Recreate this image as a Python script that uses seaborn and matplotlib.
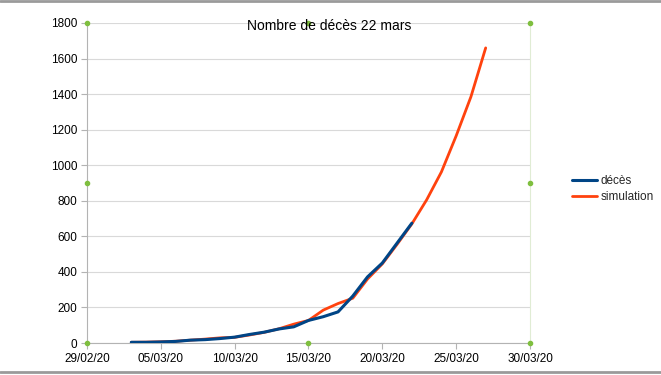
import matplotlib
matplotlib.use("Agg")
import matplotlib.pyplot as plt
import matplotlib.dates as mdates
import seaborn as sns
import pandas as pd
import numpy as np

sns.set_theme(style="white")
plt.rcParams['font.family'] = ['Liberation Sans', 'DejaVu Sans']

deces_dates = pd.date_range("2020-03-03", "2020-03-22", freq="D")
deces = [4, 4, 6, 9, 16, 19, 25, 33, 48, 61, 79, 91, 127, 148, 175, 264, 372, 450, 562, 674]

sim_dates = pd.date_range("2020-03-03", "2020-03-27", freq="D")
simulation = [4, 5, 7, 10, 16, 22, 29, 32, 45, 60, 80, 106, 127, 185, 222, 252, 360, 445, 555, 670,
              805, 962, 1165, 1385, 1660]

tick_dates = pd.date_range("2020-02-29", "2020-03-30", freq="5D")

df = pd.concat([
    pd.DataFrame({"date": deces_dates, "val": deces, "serie": "décès"}),
    pd.DataFrame({"date": sim_dates, "val": simulation, "serie": "simulation"}),
])

fig = plt.figure(figsize=(6.61, 3.75), dpi=100)
ax = fig.add_axes([0.1316, 0.0853, 0.8018 - 0.1316, 0.9387 - 0.0853])

palette = {"décès": "#004586", "simulation": "#ff420e"}
sns.lineplot(data=df[df.serie == "simulation"], x="date", y="val", color=palette["simulation"],
             linewidth=2.0, ax=ax, label="simulation", zorder=3)
sns.lineplot(data=df[df.serie == "décès"], x="date", y="val", color=palette["décès"],
             linewidth=2.2, ax=ax, label="décès", zorder=4)

ax.set_xlim(tick_dates[0], tick_dates[-1])
ax.set_ylim(0, 1800)
ax.set_yticks(np.arange(0, 1801, 200))
ax.set_xticks(tick_dates)
ax.xaxis.set_major_formatter(mdates.DateFormatter("%d/%m/%y"))
ax.grid(axis="y", color="#d9d9d9", linewidth=0.8)
ax.set_xlabel("")
ax.set_ylabel("")
for s in ["top", "right"]:
    ax.spines[s].set_visible(False)
for s in ["left", "bottom"]:
    ax.spines[s].set_color("#b3b3b3")
    ax.spines[s].set_linewidth(0.8)
ax.tick_params(axis="both", labelsize=8.5, colors="#b3b3b3", labelcolor="black",
               length=4, width=0.8, direction="out", bottom=True, left=True, pad=3)
ax.set_axisbelow(True)

fig.text(0.498, 0.931, "Nombre de décès 22 mars", ha="center", va="center",
         fontsize=10, color="black", zorder=1)

# legend (décès first)
handles, labels = ax.get_legend_handles_labels()
order = [labels.index("décès"), labels.index("simulation")]
leg = ax.legend([handles[i] for i in order], [labels[i] for i in order],
                loc="center left", bbox_to_anchor=(1.085, 0.48), frameon=False,
                fontsize=8.5, handlelength=2.1, handletextpad=0.3, labelspacing=0.35,
                borderaxespad=0)

# selection handles of the plot area
for xa, ya in [(0, 0), (0.5, 0), (1, 0), (0, 0.5), (1, 0.5), (0, 1), (0.5, 1), (1, 1)]:
    ax.plot(xa, ya, "o", ms=3, color="#7fbf3f", transform=ax.transAxes, clip_on=False, zorder=5)
ax.plot([1, 1], [0, 1], color="#e0ecd4", lw=0.8, transform=ax.transAxes, clip_on=False)

# frame lines at top and bottom
fig.add_artist(plt.Line2D([0, 1], [0.997, 0.997], color="#9a9a9a", lw=2, transform=fig.transFigure))
fig.add_artist(plt.Line2D([0, 1], [0.009, 0.009], color="#9a9a9a", lw=2, transform=fig.transFigure))

fig.savefig("out.png", dpi=100)
